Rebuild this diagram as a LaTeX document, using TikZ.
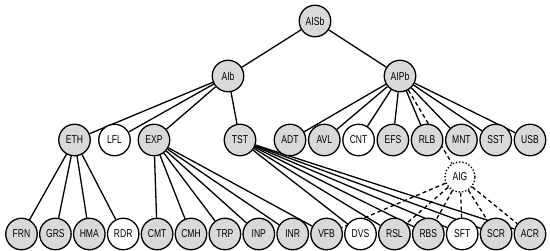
\documentclass[tikz,border=0pt]{standalone}
\usepackage{fontspec}
\newfontfamily\nodefont[FakeStretch=0.75]{Liberation Sans}
\usetikzlibrary{backgrounds}
\definecolor{nodegray}{RGB}{217,217,217}
\begin{document}
\begin{tikzpicture}[x=1pt,y=-1pt,
  base/.style={circle,draw=black,line width=1.3pt,minimum size=31.5pt,inner sep=0pt,
     font=\nodefont\fontsize{11.4}{13}\selectfont},
  gnode/.style={base,fill=nodegray},
  wnode/.style={base,fill=white},
  dnode/.style={base,fill=white,dotted,line width=1.4pt,minimum size=30pt},
  edge/.style={line width=1.3pt,draw=black},
  dedge/.style={line width=1.3pt,draw=black,dash pattern=on 4pt off 3pt}]
\useasboundingbox (0,0) rectangle (550,251);
% level 0 and 1
\node[gnode] (AISb) at (315,21) {AISb};
\node[gnode] (AIb) at (228,76) {AIb};
\node[gnode] (AIPb) at (400,76) {AIPb};
% level 2
\node[gnode] (ETH) at (74.5,140) {ETH};
\node[wnode] (LFL) at (114.5,140) {LFL};
\node[gnode] (EXP) at (154,140) {EXP};
\node[gnode] (TST) at (240,140) {TST};
\node[gnode] (ADT) at (290,140) {ADT};
\node[gnode] (AVL) at (324.3,140) {AVL};
\node[wnode] (CNT) at (358.6,140) {CNT};
\node[gnode] (EFS) at (392.9,140) {EFS};
\node[gnode] (RLB) at (427.1,140) {RLB};
\node[gnode] (MNT) at (461.4,140) {MNT};
\node[gnode] (SST) at (495.7,140) {SST};
\node[gnode] (USB) at (530,140) {USB};
\node[dnode] (AIG) at (460,177) {AIG};
% level 3
\node[gnode] (FRN) at (21.5,234) {FRN};
\node[gnode] (GRS) at (55.4,234) {GRS};
\node[gnode] (HMA) at (89.3,234) {HMA};
\node[wnode] (RDR) at (123.2,234) {RDR};
\node[gnode] (CMT) at (157.1,234) {CMT};
\node[gnode] (CMH) at (191,234) {CMH};
\node[gnode] (TRP) at (224.9,234) {TRP};
\node[gnode] (INP) at (258.8,234) {INP};
\node[gnode] (INR) at (292.7,234) {INR};
\node[gnode] (VFB) at (326.6,234) {VFB};
\node[wnode] (DVS) at (360.5,234) {DVS};
\node[gnode] (RSL) at (394.4,234) {RSL};
\node[gnode] (RBS) at (428.3,234) {RBS};
\node[wnode] (SFT) at (462.2,234) {SFT};
\node[gnode] (SCR) at (496.1,234) {SCR};
\node[gnode] (ACR) at (530,234) {ACR};
\begin{scope}[on background layer]
\draw[edge] (AISb) -- (AIb);
\draw[edge] (AISb) -- (AIPb);
\foreach \t in {ETH,LFL,EXP,TST} \draw[edge] (AIb) -- (\t);
\foreach \t in {ADT,AVL,CNT,EFS,RLB,MNT,SST,USB} \draw[edge] (AIPb) -- (\t);
\draw[dedge] (AIPb) -- (AIG);
\foreach \t in {FRN,GRS,HMA,RDR} \draw[edge] (ETH) -- (\t);
\foreach \t in {CMT,CMH,TRP,INP,INR,VFB} \draw[edge] (EXP) -- (\t);
\foreach \t in {DVS,RSL,RBS,SFT,SCR,ACR} \draw[edge] (TST) -- (\t);
\foreach \t in {VFB,RSL,RBS,SFT,SCR,ACR} \draw[dedge] (AIG) -- (\t);
\end{scope}
\end{tikzpicture}
\end{document}
